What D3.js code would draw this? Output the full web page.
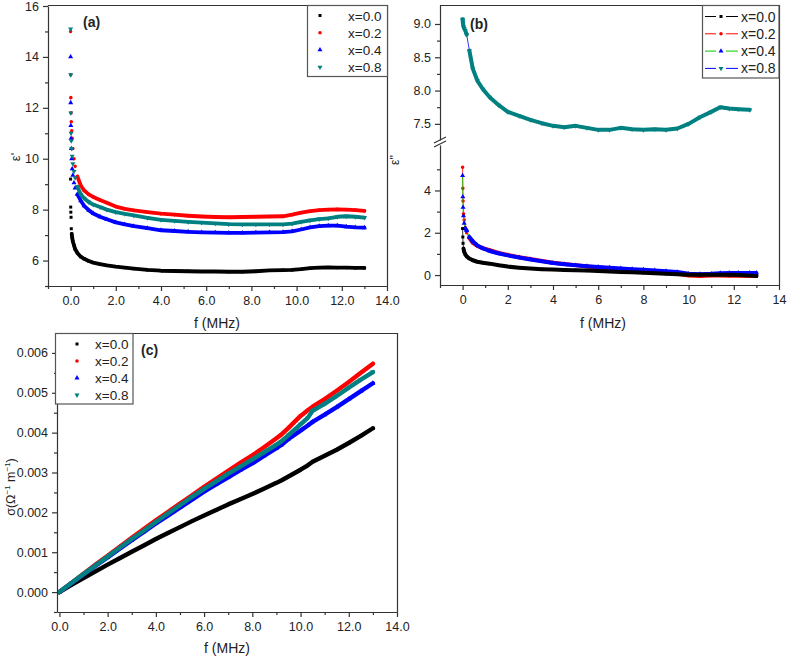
<!DOCTYPE html>
<html><head><meta charset="utf-8">
<script src="https://cdn.jsdelivr.net/npm/d3@7/dist/d3.min.js"></script>
<style>body{margin:0;background:#fff}</style>
</head><body>
<svg id="chart" width="787" height="656"></svg>
<script>
// ---------------- DATA ----------------
const seriesNames = ["x=0.0", "x=0.2", "x=0.4", "x=0.8"];
const markerColors = ["#000000", "#ff0000", "#0000ff", "#008080"];
const lineColorsB = ["#000000", "#ff0000", "#00cc00", "#0000ff"];

// panel (a): real permittivity eps'
const fA = [0.0, 0.005, 0.01, 0.02, 0.03, 0.05, 0.07, 0.1, 0.15, 0.2, 0.3, 0.45, 0.6, 0.8, 1.0, 1.3, 1.6, 2.0, 2.4, 2.8, 3.4, 4.0, 4.6, 5.2, 5.8, 6.4, 7.0, 7.6, 8.2, 8.8, 9.4, 9.8, 10.2, 10.6, 11.0, 11.4, 11.8, 12.2, 12.6, 13.0];
const epsA_x00 = [9.2, 8.1, 7.9, 7.7, 7.25, 7.05, 6.9, 6.75, 6.6, 6.45, 6.3, 6.15, 6.07, 5.98, 5.92, 5.86, 5.81, 5.76, 5.72, 5.68, 5.63, 5.6, 5.59, 5.58, 5.57, 5.57, 5.56, 5.56, 5.58, 5.61, 5.62, 5.63, 5.66, 5.7, 5.72, 5.73, 5.72, 5.72, 5.71, 5.71];
const epsA_x02 = [15.0, 13.3, 12.4, 11.8, 11.45, 11.1, 10.8, 10.4, 10.0, 9.7, 9.3, 8.95, 8.75, 8.6, 8.5, 8.38, 8.27, 8.12, 8.03, 7.97, 7.9, 7.84, 7.8, 7.76, 7.73, 7.71, 7.7, 7.71, 7.72, 7.73, 7.74, 7.8, 7.88, 7.94, 7.98, 8.0, 8.01, 8.0, 7.98, 7.95];
const epsA_x04 = [14.0, 12.2, 11.3, 10.8, 10.4, 10.0, 9.6, 9.35, 9.05, 8.85, 8.6, 8.35, 8.15, 7.98, 7.85, 7.72, 7.62, 7.5, 7.42, 7.35, 7.27, 7.19, 7.16, 7.13, 7.11, 7.1, 7.09, 7.09, 7.1, 7.11, 7.12, 7.15, 7.22, 7.3, 7.35, 7.37, 7.37, 7.33, 7.3, 7.29];
const epsA_x08 = [15.1, 13.3, 11.8, 11.0, 10.7, 10.4, 10.1, 9.8, 9.5, 9.25, 8.9, 8.6, 8.45, 8.3, 8.2, 8.1, 8.0, 7.9, 7.83, 7.77, 7.68, 7.6, 7.56, 7.52, 7.49, 7.46, 7.43, 7.42, 7.42, 7.42, 7.42, 7.45, 7.52, 7.58, 7.63, 7.66, 7.72, 7.74, 7.72, 7.69];

// panel (b): imaginary permittivity eps''
const fB = [0.0, 0.01, 0.02, 0.04, 0.07, 0.12, 0.18, 0.3, 0.45, 0.65, 0.9, 1.2, 1.6, 2.0, 2.5, 3.0, 3.5, 4.0, 4.5, 5.0, 5.5, 6.0, 6.5, 7.0, 7.5, 8.0, 8.5, 9.0, 9.5, 10.0, 10.5, 11.0, 11.4, 11.8, 12.2, 12.7, 13.0];
const epsB_x00 = [2.2, 1.8, 1.5, 1.25, 1.1, 0.98, 0.88, 0.78, 0.7, 0.63, 0.58, 0.54, 0.46, 0.4, 0.35, 0.31, 0.28, 0.26, 0.24, 0.23, 0.21, 0.19, 0.17, 0.15, 0.13, 0.11, 0.08, 0.06, 0.04, 0.02, 0.01, 0.02, 0.02, 0.01, 0.0, -0.02, -0.04];
const epsB_x02 = [5.1, 4.1, 3.5, 2.9, 2.6, 2.25, 2.0, 1.75, 1.52, 1.38, 1.27, 1.18, 1.05, 0.95, 0.84, 0.76, 0.67, 0.58, 0.52, 0.47, 0.41, 0.36, 0.31, 0.26, 0.22, 0.18, 0.16, 0.11, 0.06, -0.02, -0.04, -0.02, -0.02, -0.03, -0.03, -0.04, -0.05];
const epsB_x04 = [4.7, 3.7, 3.2, 2.8, 2.45, 2.2, 2.1, 1.8, 1.6, 1.4, 1.26, 1.14, 1.02, 0.93, 0.83, 0.74, 0.65, 0.57, 0.51, 0.46, 0.42, 0.38, 0.35, 0.31, 0.28, 0.25, 0.22, 0.18, 0.14, 0.06, 0.04, 0.06, 0.09, 0.1, 0.1, 0.1, 0.1];
const epsB_x08 = [9.07, 9.04, 9.0, 8.96, 8.93, 8.9, 8.84, 8.6, 8.33, 8.15, 8.02, 7.9, 7.78, 7.68, 7.62, 7.56, 7.51, 7.47, 7.45, 7.47, 7.44, 7.41, 7.41, 7.44, 7.42, 7.41, 7.42, 7.41, 7.43, 7.5, 7.6, 7.68, 7.75, 7.73, 7.72, 7.71, null];

// panel (c): conductivity sigma
const fC = [0.0, 0.5, 1.0, 1.5, 2.0, 2.5, 3.0, 3.5, 4.0, 4.5, 5.0, 5.5, 6.0, 6.5, 7.0, 7.5, 8.0, 8.5, 9.0, 9.2, 9.5, 10.0, 10.3, 10.5, 11.0, 11.5, 12.0, 12.5, 13.0];
const sigC_x00 = [0.0, 0.00018, 0.00035, 0.00052, 0.00069, 0.00085, 0.00101, 0.00117, 0.00133, 0.00148, 0.00163, 0.00178, 0.00192, 0.00206, 0.0022, 0.00233, 0.00246, 0.0026, 0.00274, 0.0028, 0.0029, 0.00307, 0.00318, 0.00327, 0.00342, 0.00357, 0.00374, 0.00392, 0.00411];
const sigC_x02 = [0.0, 0.00023, 0.00046, 0.00069, 0.00091, 0.00114, 0.00136, 0.00158, 0.0018, 0.00201, 0.00222, 0.00243, 0.00264, 0.00284, 0.00304, 0.00324, 0.00343, 0.00364, 0.00386, 0.00395, 0.00412, 0.00442, 0.00456, 0.00465, 0.00484, 0.00505, 0.00527, 0.0055, 0.00573];
const sigC_x04 = [0.0, 0.00022, 0.00044, 0.00066, 0.00087, 0.00109, 0.0013, 0.00151, 0.00172, 0.00192, 0.00212, 0.00232, 0.00252, 0.0027, 0.00288, 0.00306, 0.00323, 0.00342, 0.00361, 0.00369, 0.00384, 0.00405, 0.00418, 0.00427, 0.00445, 0.00464, 0.00484, 0.00504, 0.00524];
const sigC_x08 = [0.0, 0.00023, 0.00045, 0.00067, 0.00089, 0.00111, 0.00133, 0.00154, 0.00176, 0.00197, 0.00218, 0.00239, 0.00259, 0.00278, 0.00297, 0.00315, 0.00333, 0.00351, 0.0037, 0.00378, 0.00394, 0.00421, 0.00437, 0.00455, 0.00472, 0.00492, 0.00513, 0.00533, 0.00552];

// tick values
const xMajorAC = [0, 2, 4, 6, 8, 10, 12, 14];
const xMinorA = [-1, 1, 3, 5, 7, 9, 11, 13];
const xMinorC = [1, 3, 5, 7, 9, 11, 13];
const yMajorA = [6, 8, 10, 12, 14, 16];
const yMinorA = [5, 7, 9, 11, 13, 15];
const yMajorBup = [7.5, 8.0, 8.5, 9.0];
const yMinorBup = [7.75, 8.25, 8.75];
const yMajorBlow = [0, 2, 4];
const yMinorBlow = [1, 3, 5];
const yMajorC = [0, 0.001, 0.002, 0.003, 0.004, 0.005, 0.006];
const yMinorC = [-0.0005, 0.0005, 0.0015, 0.0025, 0.0035, 0.0045, 0.0055];

// ---------------- DRAWING ----------------
const FONT = "'Liberation Sans', Arial, Helvetica, sans-serif";
const AX = "#333";
const TICKFS = 12.5;
const svg = d3.select("#chart");

const shapes = [d3.symbolSquare, d3.symbolCircle, d3.symbolTriangle, d3.symbolTriangle];
const shapeSizes = [9, 10, 11, 11];
const rotations = [0, 0, 0, 180];
function marker(g, i, x, y, scale) {
  const s = scale || 1;
  g.append("path")
    .attr("d", d3.symbol().type(shapes[i]).size(shapeSizes[i] * s)())
    .attr("transform", `translate(${x},${y}) rotate(${rotations[i]})`)
    .attr("fill", markerColors[i]);
}

function styleAxis(g) {
  g.select("path.domain").attr("stroke", AX).attr("stroke-width", 1.2);
  g.selectAll(".tick line").attr("stroke", AX).attr("stroke-width", 1.2);
  g.selectAll(".tick text").attr("font-family", FONT).attr("font-size", TICKFS).attr("fill", "#222");
}

function xAxis(yPos, x, major, minor, fmt) {
  const gMin = svg.append("g").attr("transform", `translate(0,${yPos})`)
    .call(d3.axisBottom(x).tickValues(minor).tickSize(3).tickFormat(""));
  styleAxis(gMin);
  gMin.select("path.domain").remove();
  const g = svg.append("g").attr("transform", `translate(0,${yPos})`)
    .call(d3.axisBottom(x).tickValues(major).tickSize(5).tickSizeOuter(0).tickPadding(5).tickFormat(fmt));
  styleAxis(g);
}
function yAxis(xPos, y, major, minor, fmt) {
  const gMin = svg.append("g").attr("transform", `translate(${xPos},0)`)
    .call(d3.axisLeft(y).tickValues(minor).tickSize(3).tickFormat(""));
  styleAxis(gMin);
  gMin.select("path.domain").remove();
  const g = svg.append("g").attr("transform", `translate(${xPos},0)`)
    .call(d3.axisLeft(y).tickValues(major).tickSize(5).tickSizeOuter(0).tickPadding(4).tickFormat(fmt));
  styleAxis(g);
}
function frameTopRight(x0, x1, y0, y1) {
  svg.append("path").attr("d", `M${x0},${y0 + 0.5}H${x1 + 0.5}V${y1}`)
    .attr("fill", "none").attr("stroke", AX).attr("stroke-width", 1.2);
}
function label(txt, x, y, opts) {
  const o = opts || {};
  const t = svg.append("text").attr("x", x).attr("y", y)
    .attr("font-family", FONT).attr("font-size", o.size || 14)
    .attr("font-weight", o.bold ? "bold" : "normal")
    .attr("text-anchor", o.anchor || "middle").attr("fill", "#222").text(txt);
  if (o.rotate) t.attr("transform", `rotate(-90,${x},${y})`);
  return t;
}
// dense measured points merge into a band; near-vertical jumps at almost the same
// frequency stay as separate markers (as in the steep low-frequency region)
function drawSeries(f, vals, i, x, y, bandW, lineColor) {
  const pts = f.map((d, k) => [d, vals[k]]).filter(p => p[1] !== null)
    .map(p => [x(p[0]), y(p[1])]);
  if (lineColor) {
    svg.append("path").attr("d", d3.line()(pts)).attr("fill", "none")
      .attr("stroke", lineColor).attr("stroke-width", 0.8);
  }
  let d = "";
  pts.forEach((p, k) => {
    if (k === 0) { d += `M${p[0]},${p[1]}`; return; }
    const q = pts[k - 1];
    const dx = Math.abs(p[0] - q[0]), dy = Math.abs(p[1] - q[1]);
    const brk = dx < 3 && dy > 4;
    d += (brk ? "M" : "L") + `${p[0]},${p[1]}`;
  });
  svg.append("path").attr("d", d).attr("fill", "none")
    .attr("stroke", markerColors[i]).attr("stroke-width", bandW)
    .attr("stroke-linejoin", "round").attr("stroke-linecap", "round");
  const g = svg.append("g");
  pts.forEach(p => marker(g, i, p[0], p[1]));
}

// ---- Panel (a) ----
{
  const L = 48, R = 387, T = 6, B = 286;
  const x = d3.scaleLinear().domain([-1, 14]).range([L, R]);
  const y = d3.scaleLinear().domain([5, 16]).range([B, T]);
  const data = [epsA_x00, epsA_x02, epsA_x04, epsA_x08];
  data.forEach((vals, i) => drawSeries(fA, vals, i, x, y, 3.8));
  xAxis(B, x, xMajorAC, xMinorA, d3.format(".1f"));
  yAxis(L, y, yMajorA, yMinorA, d3.format("d"));
  frameTopRight(L, R, 5, B);
  svg.append("line").attr("x1", L + 0.5).attr("x2", L + 0.5).attr("y1", 5).attr("y2", T).attr("stroke", AX).attr("stroke-width", 1.2);
  label("f (MHz)", 217, 328);
  label("ε'", 20, 157, {size: 13, rotate: true});
  label("(a)", 83, 27, {bold: true, anchor: "start"});
  // legend
  svg.append("rect").attr("x", 307.5).attr("y", 5.5).attr("width", 80).attr("height", 71)
    .attr("fill", "#fff").attr("stroke", "#555").attr("stroke-width", 1.2);
  seriesNames.forEach((n, i) => {
    const yy = 15.5 + i * 17.2;
    marker(svg, i, 320, yy);
    label(n, 348, yy + 5, {size: 13.5, anchor: "start"});
  });
}

// ---- Panel (b) ----
{
  const L = 440, R = 779, T = 5, B = 285;
  const x = d3.scaleLinear().domain([-1, 14]).range([L, R]);
  const yUp = d3.scaleLinear().domain([7.25, 9.285]).range([140.5, T]);
  const yLow = d3.scaleLinear().domain([-0.47, 6.15]).range([B, 145]);
  const yB = v => v >= 7 ? yUp(v) : yLow(v);
  const data = [epsB_x00, epsB_x02, epsB_x04, epsB_x08];
  [3, 1, 2, 0].forEach(i => drawSeries(fB, data[i], i, x, yB, 4, lineColorsB[i]));
  xAxis(B, x, xMajorAC, xMinorA, d3.format("d"));
  // y axis: two segments
  const gUpMin = svg.append("g").attr("transform", `translate(${L},0)`)
    .call(d3.axisLeft(yUp).tickValues(yMinorBup).tickSize(3).tickFormat(""));
  styleAxis(gUpMin); gUpMin.select("path.domain").remove();
  const gUp = svg.append("g").attr("transform", `translate(${L},0)`)
    .call(d3.axisLeft(yUp).tickValues(yMajorBup).tickSize(5).tickSizeOuter(0).tickPadding(4).tickFormat(d3.format(".1f")));
  styleAxis(gUp);
  const gLoMin = svg.append("g").attr("transform", `translate(${L},0)`)
    .call(d3.axisLeft(yLow).tickValues(yMinorBlow).tickSize(3).tickFormat(""));
  styleAxis(gLoMin); gLoMin.select("path.domain").remove();
  const gLo = svg.append("g").attr("transform", `translate(${L},0)`)
    .call(d3.axisLeft(yLow).tickValues(yMajorBlow).tickSize(5).tickSizeOuter(0).tickPadding(4).tickFormat(d3.format("d")));
  styleAxis(gLo);
  // break marks
  svg.append("rect").attr("x", L - 3).attr("y", 140.5).attr("width", 6).attr("height", 4.5).attr("fill", "#fff");
  [0, 4].forEach(o => {
    svg.append("line").attr("x1", L - 6).attr("y1", 143 + o).attr("x2", L + 6).attr("y2", 137 + o)
      .attr("stroke", AX).attr("stroke-width", 1.2);
  });
  frameTopRight(L, R, T, B);
  label("f (MHz)", 603, 328);
  label("ε''", 399, 160, {size: 12, rotate: true});
  label("(b)", 470, 29, {bold: true, anchor: "start"});
  // legend
  svg.append("rect").attr("x", 702.5).attr("y", 5.5).attr("width", 76.5).attr("height", 72.5)
    .attr("fill", "#fff").attr("stroke", "#555").attr("stroke-width", 1.2);
  seriesNames.forEach((n, i) => {
    const yy = 16.5 + i * 17.3;
    svg.append("line").attr("x1", 705).attr("x2", 716).attr("y1", yy).attr("y2", yy)
      .attr("stroke", lineColorsB[i]).attr("stroke-width", 1);
    svg.append("line").attr("x1", 726).attr("x2", 738).attr("y1", yy).attr("y2", yy)
      .attr("stroke", lineColorsB[i]).attr("stroke-width", 1);
    marker(svg, i, 721, yy);
    label(n, 741, yy + 5, {size: 14, anchor: "start"});
  });
}

// ---- Panel (c) ----
{
  const L = 57, R = 397, T = 333, B = 612;
  const x = d3.scaleLinear().domain([-0.1, 14]).range([L, R]);
  const y = d3.scaleLinear().domain([-0.0005, 0.0065]).range([B, T]);
  const data = [sigC_x00, sigC_x02, sigC_x04, sigC_x08];
  data.forEach((vals, i) => drawSeries(fC, vals, i, x, y, 4.4));
  xAxis(B, x, xMajorAC, xMinorC, d3.format(".1f"));
  yAxis(L, y, yMajorC, yMinorC, d3.format(".3f"));
  frameTopRight(L, R, T, B);
  label("f (MHz)", 227, 653);
  const yl = svg.append("text").attr("transform", "translate(15,487) rotate(-90)")
    .attr("font-family", FONT).attr("font-size", 12.5).attr("fill", "#222").attr("text-anchor", "middle");
  yl.append("tspan").text("σ(Ω");
  yl.append("tspan").attr("font-size", 8).attr("dy", -5).text("−1");
  yl.append("tspan").attr("dy", 5).text(" m");
  yl.append("tspan").attr("font-size", 8).attr("dy", -5).text("−1");
  yl.append("tspan").attr("dy", 5).text(")");
  label("(c)", 141, 355, {bold: true, anchor: "start"});
  svg.append("rect").attr("x", 55.5).attr("y", 333.5).attr("width", 77.5).attr("height", 70.5)
    .attr("fill", "#fff").attr("stroke", "#555").attr("stroke-width", 1.2);
  seriesNames.forEach((n, i) => {
    const yy = 344 + i * 17;
    marker(svg, i, 77, yy);
    label(n, 95, yy + 5, {size: 13.5, anchor: "start"});
  });
}
</script>
</body></html>
